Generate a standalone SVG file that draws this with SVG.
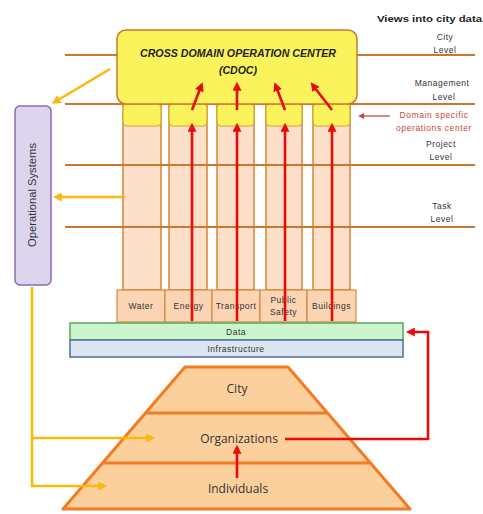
<svg xmlns="http://www.w3.org/2000/svg" width="483" height="514" viewBox="0 0 483 514">
<defs>
<style>
.lvl{stroke:#c8782f;stroke-width:2;fill:none}
.col{fill:#fde0c9;stroke:#d5862f;stroke-width:1.5}
.ybox{fill:#fbf35c;stroke:#d5a530;stroke-width:1.2}
.dom{fill:#fbd5b3;stroke:#d48a3e;stroke-width:1.2}
.red{stroke:#ea0a0a;stroke-width:2.6;fill:none}
.yel{stroke:#f8b80c;stroke-width:2.6;fill:none}
.lab{font-family:"Liberation Sans",Arial,sans-serif;font-size:8.5px;fill:#333;text-anchor:middle;letter-spacing:0.5px}
.rlab{font-family:"Liberation Sans",Arial,sans-serif;font-size:8.5px;fill:#c8463a;text-anchor:middle;letter-spacing:0.6px}
.pyr{font-family:"Open Sans","Liberation Sans",sans-serif;font-size:12px;fill:#333;text-anchor:middle}
.dl{font-family:"Liberation Sans",Arial,sans-serif;font-size:8.5px;fill:#333;text-anchor:middle;letter-spacing:0.5px}
</style>
<marker id="ar" viewBox="0 0 10 10" refX="2" refY="5" markerWidth="9" markerHeight="9" markerUnits="userSpaceOnUse" orient="auto">
<path d="M0,0 L10,5 L0,10 z" fill="#ea0a0a"/>
</marker>
<marker id="ay" viewBox="0 0 10 10" refX="2" refY="5" markerWidth="9" markerHeight="9" markerUnits="userSpaceOnUse" orient="auto">
<path d="M0,0 L10,5 L0,10 z" fill="#f8b80c"/>
</marker>
<marker id="as" viewBox="0 0 10 10" refX="2" refY="5" markerWidth="6" markerHeight="6" markerUnits="userSpaceOnUse" orient="auto">
<path d="M0,0 L10,5 L0,10 z" fill="#c8463a"/>
</marker>
</defs>
<rect width="483" height="514" fill="#fff"/>

<!-- level lines -->
<g id="levels">
<line class="lvl" x1="65" y1="55" x2="475" y2="55"/>
<line class="lvl" x1="65" y1="104" x2="475" y2="104"/>
</g>

<!-- columns -->
<g id="columns">
<g id="col-water"><rect class="col" x="123" y="104" width="38" height="186"/><rect class="ybox" x="123" y="104" width="38" height="22" rx="4"/></g>
<g id="col-energy"><rect class="col" x="169" y="104" width="38" height="186"/><rect class="ybox" x="169" y="104" width="38" height="22" rx="4"/></g>
<g id="col-transport"><rect class="col" x="217" y="104" width="37" height="186"/><rect class="ybox" x="217" y="104" width="37" height="22" rx="4"/></g>
<g id="col-safety"><rect class="col" x="266" y="104" width="36" height="186"/><rect class="ybox" x="266" y="104" width="36" height="22" rx="4"/></g>
<g id="col-buildings"><rect class="col" x="313" y="104" width="37" height="186"/><rect class="ybox" x="313" y="104" width="37" height="22" rx="4"/></g>
</g>

<g id="levels2">
<line class="lvl" x1="65" y1="165" x2="475" y2="165"/>
<line class="lvl" x1="65" y1="227" x2="475" y2="227"/>
</g>

<!-- CDOC -->
<g id="cdoc">
<rect x="117" y="30" width="240" height="74" rx="9" fill="#fbf35c" stroke="#c8782f" stroke-width="1.5"/>
<text x="238" y="57" font-family="'Liberation Sans',Arial,sans-serif" font-size="10.5" font-weight="bold" font-style="italic" fill="#222" text-anchor="middle" textLength="196" lengthAdjust="spacingAndGlyphs">CROSS DOMAIN OPERATION CENTER</text>
<text x="238" y="74" font-family="'Liberation Sans',Arial,sans-serif" font-size="10.5" font-weight="bold" font-style="italic" fill="#222" text-anchor="middle">(CDOC)</text>
</g>

<!-- domain boxes -->
<g id="domains">
<g id="d-water"><rect class="dom" x="117" y="290" width="48" height="32"/><text class="dl" x="141" y="309">Water</text></g>
<g id="d-energy"><rect class="dom" x="165" y="290" width="47" height="32"/><text class="dl" x="188.5" y="309">Energy</text></g>
<g id="d-transport"><rect class="dom" x="212" y="290" width="48" height="32"/><text class="dl" x="236" y="309">Transport</text></g>
<g id="d-safety"><rect class="dom" x="260" y="290" width="47" height="32"/><text class="dl" x="283.5" y="303">Public</text><text class="dl" x="283.5" y="315">Safety</text></g>
<g id="d-buildings"><rect class="dom" x="307" y="290" width="49" height="32"/><text class="dl" x="331.5" y="309">Buildings</text></g>
</g>

<!-- data / infrastructure -->
<g id="data"><rect x="70" y="323" width="333" height="17" fill="#cdf5cd" stroke="#5aa65a" stroke-width="1.5"/><text class="dl" x="236" y="335">Data</text></g>
<g id="infra"><rect x="70" y="340" width="333" height="17" fill="#dce6f2" stroke="#4d6f99" stroke-width="1.5"/><text class="dl" x="236" y="352">Infrastructure</text></g>

<!-- operational systems -->
<g id="opsys">
<rect x="15" y="106" width="36" height="179" rx="5" fill="#ddd5ee" stroke="#8a6bb5" stroke-width="1.5"/>
<text transform="translate(36,195) rotate(-90)" font-family="'Liberation Sans',Arial,sans-serif" font-size="10" fill="#333" text-anchor="middle" textLength="104" lengthAdjust="spacingAndGlyphs">Operational Systems</text>
</g>

<!-- pyramid -->
<g id="pyramid">
<polygon points="185,367 288,367 410,509 63,509" fill="#fcd09c" stroke="#f37b22" stroke-width="3" stroke-linejoin="round"/>
<line x1="146" y1="413" x2="328" y2="413" stroke="#f37b22" stroke-width="3"/>
<line x1="103" y1="463" x2="370" y2="463" stroke="#f37b22" stroke-width="3"/>
<text class="pyr" x="237" y="393">City</text>
<text class="pyr" x="239" y="443">Organizations</text>
<text class="pyr" x="238" y="493">Individuals</text>
</g>

<!-- labels -->
<g id="labels">
<text x="482" y="22" font-family="'Liberation Sans',Arial,sans-serif" font-size="9.5" font-weight="bold" fill="#222" text-anchor="end" textLength="105" lengthAdjust="spacingAndGlyphs">Views into city data</text>
<text class="lab" x="445" y="40">City</text>
<text class="lab" x="445" y="53">Level</text>
<text class="lab" x="442" y="86">Management</text>
<text class="lab" x="444" y="100">Level</text>
<text class="rlab" x="434" y="118">Domain specific</text>
<text class="rlab" x="434" y="131">operations center</text>
<text class="lab" x="441" y="147">Project</text>
<text class="lab" x="441" y="160">Level</text>
<text class="lab" x="442" y="209">Task</text>
<text class="lab" x="442" y="222">Level</text>
</g>

<!-- connectors -->
<g id="connectors">
<line x1="390" y1="116" x2="363" y2="116" stroke="#c8463a" stroke-width="1.3" marker-end="url(#as)"/>
<line class="red" x1="192" y1="321" x2="192" y2="130" marker-end="url(#ar)"/>
<line class="red" x1="237" y1="321" x2="237" y2="130" marker-end="url(#ar)"/>
<line class="red" x1="285" y1="321" x2="285" y2="130" marker-end="url(#ar)"/>
<line class="red" x1="332" y1="321" x2="332" y2="130" marker-end="url(#ar)"/>
<line class="red" x1="192" y1="110" x2="200" y2="89" marker-end="url(#ar)"/>
<line class="red" x1="237" y1="110" x2="237" y2="89" marker-end="url(#ar)"/>
<line class="red" x1="285" y1="110" x2="277" y2="89" marker-end="url(#ar)"/>
<line class="red" x1="332" y1="110" x2="315" y2="88" marker-end="url(#ar)"/>
<polyline class="red" points="285,439 428,439 428,332 413,332" marker-end="url(#ar)"/>
<line class="red" x1="237" y1="478" x2="237" y2="452" marker-end="url(#ar)"/>
<line class="yel" x1="110" y1="69" x2="58" y2="100" marker-end="url(#ay)"/>
<line class="yel" x1="125" y1="197" x2="60" y2="197" marker-end="url(#ay)"/>
<polyline class="yel" points="32,287 32,486 100,486" marker-end="url(#ay)"/>
<polyline class="yel" points="32,438 148,438" marker-end="url(#ay)"/>
</g>
</svg>
